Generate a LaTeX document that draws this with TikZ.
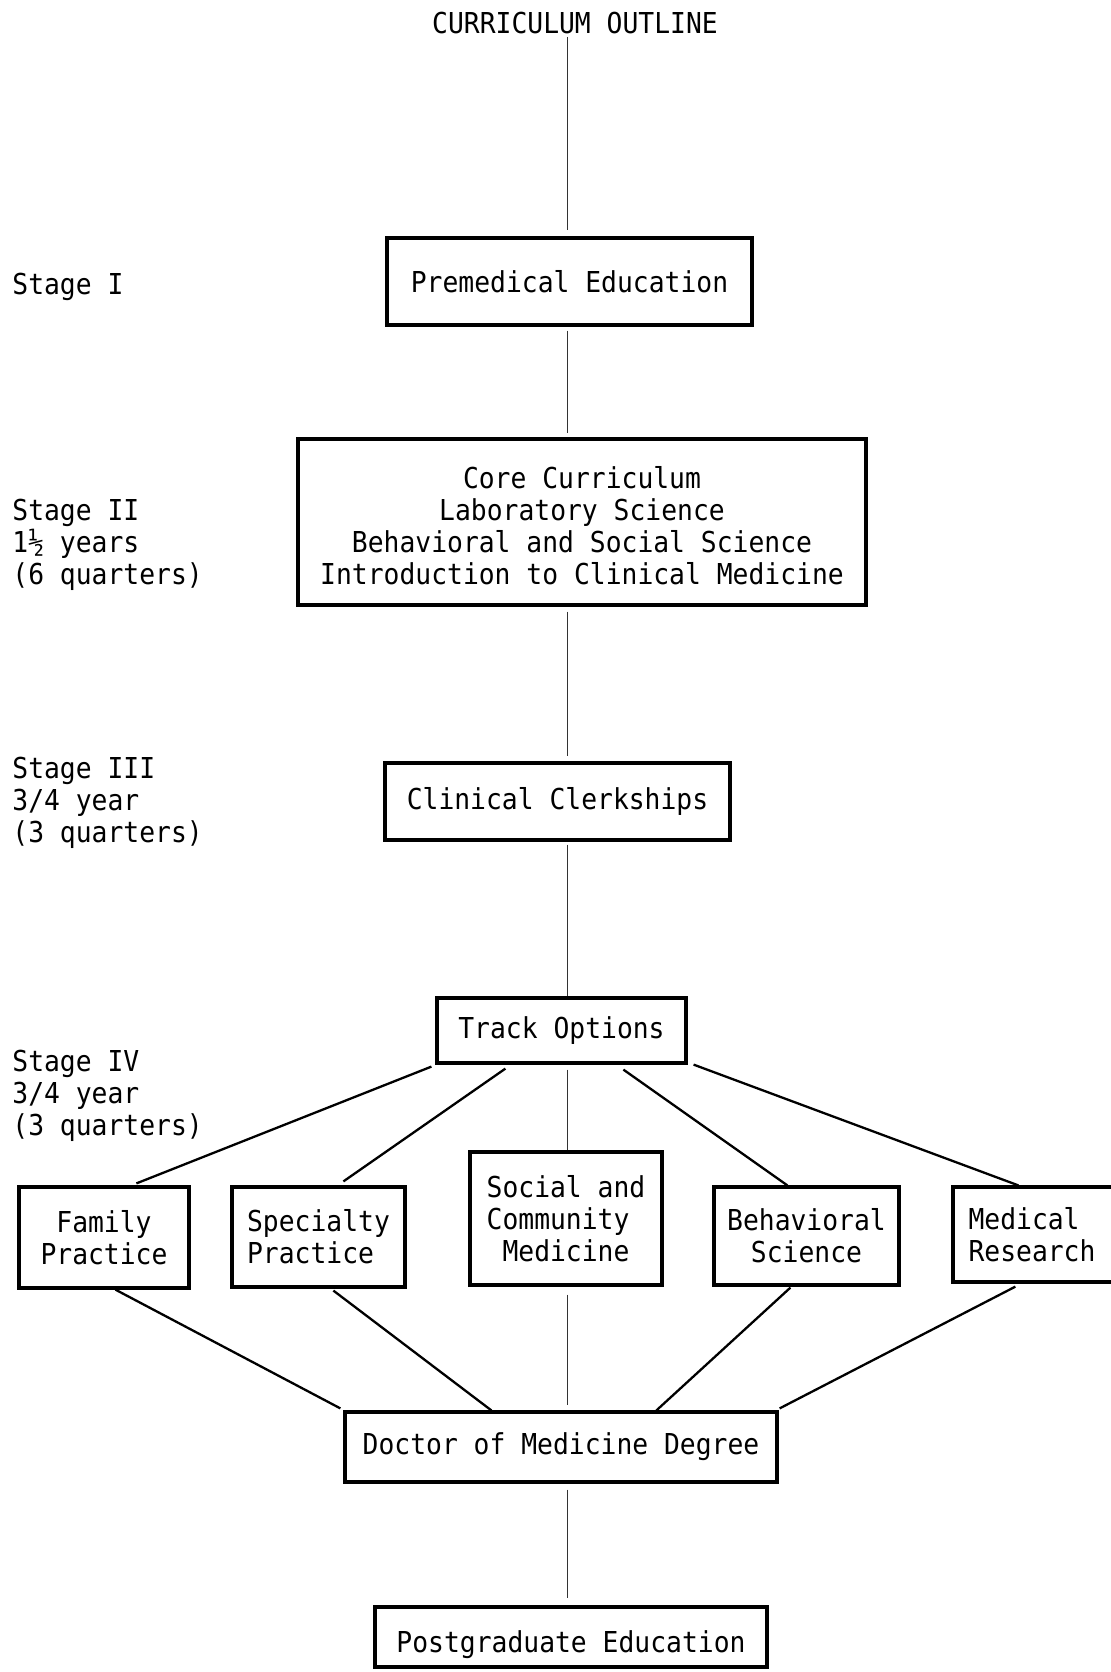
\documentclass[tikz,border=0pt]{standalone}
\usepackage{fontspec}
\newfontfamily\tw[FakeStretch=0.915]{DejaVu Sans Mono}
\usetikzlibrary{calc}
\tikzset{
  twf/.style={font=\tw\fontsize{14.4pt}{16pt}\selectfont},
  bx/.style={twf, draw, line width=1.6pt, inner sep=0pt, align=center},
  lbl/.style={twf, inner sep=0pt, align=left, anchor=base west},
  vline/.style={line width=0.6pt, black!80},
  dline/.style={line width=1.15pt},
}
\begin{document}
\begin{tikzpicture}[x=0.5pt,y=-0.5pt]
\useasboundingbox[fill=white] (0,0) rectangle (1110,1672);
\coordinate (sp) at (567.5,0);
\node[twf, inner sep=0pt, anchor=base] (title) at (575,33) {CURRICULUM OUTLINE};

\node[bx, minimum width=182.5pt, minimum height=43.5pt] (pre) at (569.5,281.5) {Premedical Education};
\node[bx, minimum width=284pt, minimum height=83pt] (core) at (582,522) {\rule{0pt}{15pt}Core Curriculum\\Laboratory Science\\Behavioral and Social Science\\Introduction to Clinical Medicine};
\node[bx, minimum width=172.5pt, minimum height=38.5pt] (clin) at (557.5,801.5) {Clinical Clerkships};
\node[bx, minimum width=124.5pt, minimum height=32.5pt] (track) at (561.5,1030.5) {Track Options};
\node[bx, minimum width=85pt, minimum height=50.5pt] (fam) at (104,1237.5) {Family\\Practice};
\node[bx, align=left, minimum width=86.5pt, minimum height=50pt] (spec) at (318.5,1237) {Specialty\\Practice};
\node[bx, align=left, minimum width=96pt, minimum height=66.5pt] (soc) at (566,1218.5) {Social and\\Community\\\phantom{M}Medicine};
\node[bx, minimum width=92.5pt, minimum height=49pt] (beh) at (806.5,1236) {Behavioral\\Science};
\node[bx, align=left, minimum width=86pt, minimum height=47.5pt] (med) at (1039,1234.5) {Medical\\Research\hspace*{7pt}};
\node[bx, minimum width=216pt, minimum height=35pt] (doc) at (561,1447) {Doctor of Medicine Degree};
\node[bx, minimum width=196pt, minimum height=30pt, text height=15pt, text depth=0pt] (post) at (571,1637) {Postgraduate Education};

\node[lbl] (s1) at (12,294) {Stage I};
\node[lbl] (s2) at (12,584) {Stage II\\1½ years\\(6 quarters)};
\node[lbl] (s3) at (12,842) {Stage III\\3/4 year\\(3 quarters)};
\node[lbl] (s4) at (12,1135) {Stage IV\\3/4 year\\(3 quarters)};

\draw[vline, shorten <=1.5pt, shorten >=3pt] (title.south -| sp) -- (pre.north -| sp);
\draw[vline, shorten <=2pt, shorten >=2pt] (pre.south -| sp) -- (core.north -| sp);
\draw[vline, shorten <=2.5pt, shorten >=2.5pt] (core.south -| sp) -- (clin.north -| sp);
\draw[vline, shorten <=1.5pt] (clin.south -| sp) -- (track.north -| sp);
\draw[vline, shorten <=2.5pt] (track.south -| sp) -- (soc.north -| sp);
\draw[vline, shorten <=4pt, shorten >=2.5pt] (soc.south -| sp) -- (doc.north -| sp);
\draw[vline, shorten <=3pt, shorten >=3.5pt] (doc.south -| sp) -- (post.north -| sp);

\draw[dline] ($(track.south west)+(-4,2)$) -- ($(fam.north west)+(119,-2)$);
\draw[dline] ($(track.south west)+(70,4)$) -- ($(spec.north west)+(113,-4)$);
\draw[dline] ($(track.south west)+(188,5)$) -- ($(beh.north west)+(75,0)$);
\draw[dline] ($(track.south east)+(6,0)$) -- ($(med.north west)+(67,0)$);

\draw[dline] ($(fam.south west)+(98,0)$) -- ($(doc.north west)+(-3,-2)$);
\draw[dline] ($(spec.south west)+(103,2)$) -- ($(doc.north west)+(148,0)$);
\draw[dline] ($(beh.south west)+(78,1)$) -- ($(doc.north west)+(313,0)$);
\draw[dline] ($(med.south west)+(64,3)$) -- ($(doc.north east)+(1,-2)$);
\end{tikzpicture}
\end{document}
